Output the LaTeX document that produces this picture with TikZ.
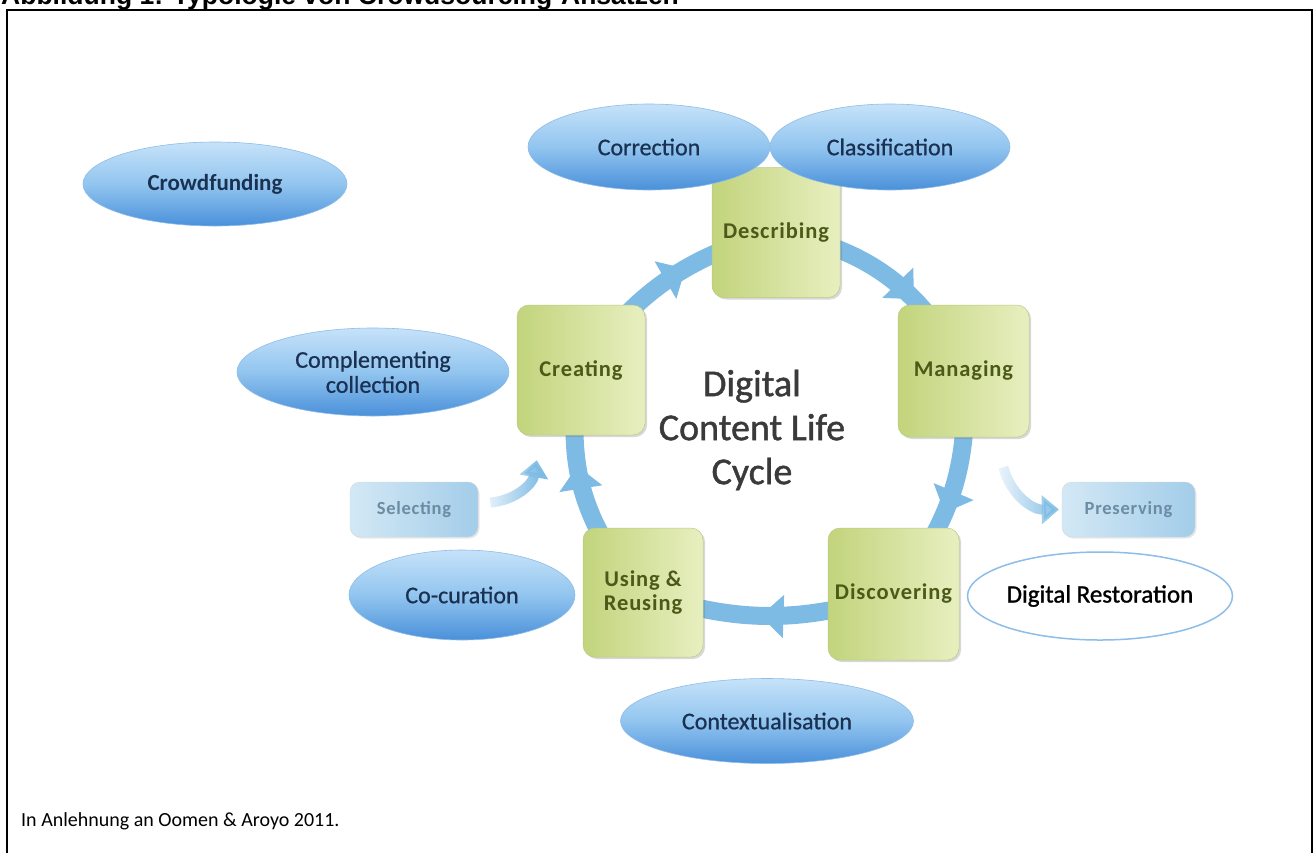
\documentclass[tikz,border=0pt]{standalone}
\usepackage{fontspec}
\newfontfamily\calfont{Carlito}
\newfontfamily\calmed{Carlito}[FakeBold=0.7]
\newfontfamily\calctr{Carlito}[FakeBold=1.1]
\newfontfamily\calsp{Carlito}[LetterSpace=4]
\newfontfamily\arlfont{Liberation Sans}
\usetikzlibrary{shapes.geometric,arrows.meta,decorations.markings,shadows,fadings}
\definecolor{bubtop}{HTML}{C6E2F9}
\definecolor{bubmid}{HTML}{92C5EF}
\definecolor{bubbot}{HTML}{4A90DA}
\definecolor{bubedge}{HTML}{8DBDE8}
\definecolor{bubtext}{HTML}{1B3152}
\definecolor{greenL}{HTML}{C2D47C}
\definecolor{greenR}{HTML}{E8EFC0}
\definecolor{greenE}{HTML}{B9CB82}
\definecolor{greentext}{HTML}{4B5A19}
\definecolor{sideL}{HTML}{D3E8F5}
\definecolor{sideR}{HTML}{A3CDE9}
\definecolor{sidetext}{HTML}{6B8CA3}
\definecolor{flowblue}{HTML}{7DBBE4}
\definecolor{centertext}{HTML}{3A3A3A}
\tikzfading[name=fadein, left color=transparent!85, right color=transparent!0]
\pgfdeclarelayer{back}
\pgfsetlayers{back,main}
\tikzset{
  bubble/.style={ellipse, top color=bubtop, bottom color=bubbot, middle color=bubmid,
    draw=bubedge, line width=0.6pt, inner sep=0pt, text=bubtext, align=center,
    font=\calmed\fontsize{24}{25}\selectfont},
  stagebox/.style={rectangle, rounded corners=12pt, left color=greenL, right color=greenR,
    draw=greenE, line width=0.5pt, minimum width=128pt, minimum height=130pt, inner sep=0pt,
    text=greentext, align=center, font=\calsp\bfseries\fontsize{22.5}{24}\selectfont,
    drop shadow={shadow xshift=2pt, shadow yshift=-2pt, opacity=0.25, fill=black!60}},
  sidebox/.style={rectangle, rounded corners=10pt, left color=sideL, right color=sideR,
    draw=sideR!80!black!40, line width=0.4pt, minimum height=55pt, inner sep=0pt,
    text=sidetext, font=\calsp\bfseries\fontsize{18.5}{21}\selectfont,
    drop shadow={shadow xshift=1.5pt, shadow yshift=-1.5pt, opacity=0.15, fill=black!60}},
  flow/.style={draw=flowblue, line width=18pt,
    decoration={markings, mark=at position #1 with {\arrow[flowblue]{Triangle[length=23pt,width=42pt]}}},
    postaction={decorate}},
  flow/.default=0.6,
  sidearrow/.style={draw=flowblue, line width=10pt, -{Triangle[length=17pt,width=28pt]}, path fading=fadein}
}
\begin{document}
\begin{tikzpicture}[x=1pt,y=-1pt]
\useasboundingbox (0,0) rectangle (1314,852);
\begin{pgfonlayer}{back}
\fill[white] (0,0) rectangle (1314,852);
\end{pgfonlayer}
% title (cut off at the top, as in the reference) and frame
\node[anchor=base west, inner sep=0pt, font=\arlfont\bfseries\fontsize{26.5}{30}\selectfont] (title) at (1,4.5) {Abbildung 1: Typologie von Crowdsourcing-Ansätzen};
\draw[line width=2.2pt] (7,10.3) rectangle (1312,880);

% life cycle stages
\node[stagebox] (des) at (776,232.5) {Describing};
\node[stagebox] (cre) at (581,370) {Creating};
\node[stagebox, minimum width=131pt, minimum height=132pt] (man) at (963.5,371) {Managing};
\node[stagebox, minimum width=131pt, minimum height=132pt] (dis) at (893.5,594) {Discovering};
\node[stagebox, minimum width=120pt, minimum height=129pt] (use) at (643,592.5) {Using \&\\Reusing};

\node[sidebox, minimum width=128pt] (sel) at (414,509.5) {Selecting};
\node[sidebox, minimum width=133pt] (pres) at (1128.5,509.5) {Preserving};

% crowdsourcing types
\node[bubble, minimum width=264pt, minimum height=84pt, font=\calfont\bfseries\fontsize{23}{25}\selectfont] (crowd) at (215,184) {Crowdfunding};
\node[bubble, minimum width=242pt, minimum height=86pt] (corr) at (649,147) {Correction};
\node[bubble, minimum width=240pt, minimum height=86pt] (class) at (890,147) {Classification};
\node[bubble, minimum width=272pt, minimum height=88pt] (compl) at (373,372) {Complementing\\collection};
\node[bubble, minimum width=226pt, minimum height=90pt] (cocur) at (462,595) {Co-curation};
\node[bubble, minimum width=293pt, minimum height=85pt] (context) at (767,721) {Contextualisation};
\node[ellipse, draw=bubedge, line width=1.5pt, fill=white, inner sep=0pt, minimum width=265pt, minimum height=88pt,
  font=\calctr\fontsize{25}{27}\selectfont] (restor) at (1100,596) {Digital Restoration};

% centre title
\node[align=center, inner sep=0pt, text=centertext, font=\calctr\fontsize{38}{44}\selectfont] (center) at (752,430) {Digital\\Content Life\\Cycle};

% cycle arrows
\begin{pgfonlayer}{back}
\draw[flow=0.6] (cre.center) to[bend left=20] (des.center);
\draw[flow=0.64] (des.center) to[bend left=27] (man.center);
\draw[flow=0.6] (man.center) to[bend left=22] (dis.center);
\draw[flow=0.53] (dis.center) to[bend left=18] (use.center);
\draw[flow=0.6] (use.center) to[bend left=27] (cre.center);
\end{pgfonlayer}
\draw[sidearrow] ([shift={(12pt,7pt)}]sel.east) to[bend right=38] ([shift={(20pt,-25pt)}]cre.south west);
\draw[sidearrow] ([shift={(-26pt,-30pt)}]man.south east) to[bend right=38] ([xshift=-3pt]pres.west);

% source
\node[anchor=base west, inner sep=0pt, font=\calfont\fontsize{20}{24}\selectfont] (source) at (21,826) {In Anlehnung an Oomen \& Aroyo 2011.};
\end{tikzpicture}
\end{document}
